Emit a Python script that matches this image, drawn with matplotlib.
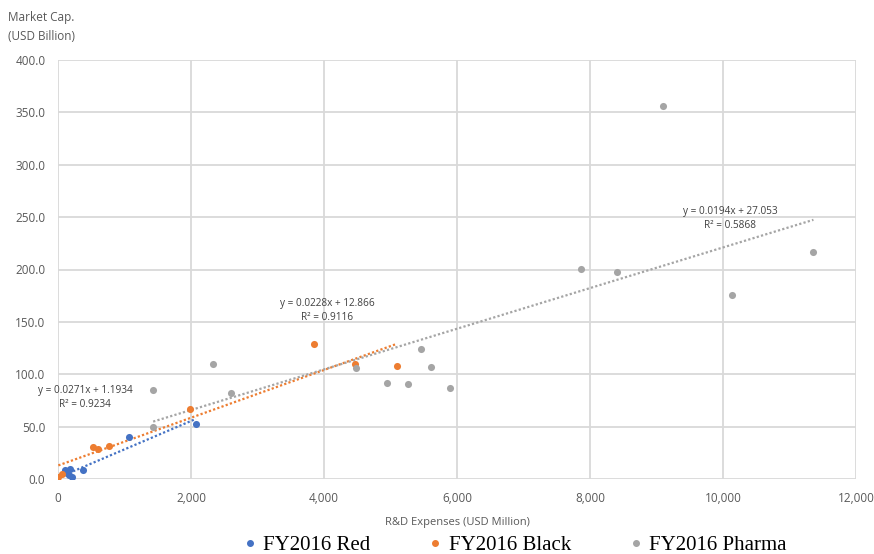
import matplotlib
matplotlib.use("Agg")
import matplotlib.pyplot as plt
from matplotlib.lines import Line2D
from matplotlib.ticker import FuncFormatter, MultipleLocator

# R&D expenses (USD million) vs market cap (USD billion)
red_rd = [105, 140, 170, 181, 206, 381, 1064, 2073]
red_cap = [8.6, 5.4, 3.8, 9.3, 2.2, 8.6, 40.4, 52.2]

black_rd = [5, 55, 522, 597, 773, 1988, 3855, 4473, 5100]
black_cap = [2.0, 4.5, 30.9, 28.3, 31.8, 66.8, 128.9, 110.0, 108.2]

pharma_rd = [1431, 1431, 2334, 2605, 4488, 4950, 5256, 5462, 5613, 5893,
             7871, 8404, 9101, 10136, 11360]
pharma_cap = [85.0, 49.6, 109.8, 82.0, 106.0, 91.6, 90.4, 123.8, 107.0, 86.9,
              200.2, 198.0, 355.8, 175.4, 217.0]

# Linear trendlines: slope, intercept, R^2
red_fit = (0.0271, 1.1934, 0.9234)
black_fit = (0.0228, 12.866, 0.9116)
pharma_fit = (0.0194, 27.053, 0.5868)

series_names = ["FY2016 Red", "FY2016 Black", "FY2016 Pharma"]
colors = ["#4472C4", "#ED7D31", "#A5A5A5"]

plt.rcParams["font.family"] = ["Open Sans", "DejaVu Sans"]

fig = plt.figure(figsize=(8.74, 5.54), dpi=100)
ax = fig.add_axes([58 / 874, 1 - 479 / 554, (856 - 58) / 874, (479 - 60) / 554])

series = [(red_rd, red_cap, red_fit), (black_rd, black_cap, black_fit),
          (pharma_rd, pharma_cap, pharma_fit)]

for (xs, ys, fit), c in zip(series, colors):
    ax.scatter(xs, ys, s=26, color=c, zorder=4, linewidths=0)
    slope, icpt, _ = fit
    x0, x1 = min(xs), max(xs)
    ax.plot([x0, x1], [slope * x0 + icpt, slope * x1 + icpt], color=c,
            linestyle=(0, (1, 1)), linewidth=1.6, zorder=3)

# trendline equations
label_pos = [(407, 78), (4051, 161), (10105, 248.5)]
for (_, _, fit), (lx, ly) in zip(series, label_pos):
    slope, icpt, r2 = fit
    txt = f"y = {slope:g}x + {icpt:g}\nR² = {r2:g}"
    ax.text(lx, ly, txt, ha="center", va="center", fontsize=7.2,
            color="#404040", linespacing=1.35, zorder=5)

ax.set_xlim(0, 12000)
ax.set_ylim(0, 400)
ax.xaxis.set_major_locator(MultipleLocator(2000))
ax.yaxis.set_major_locator(MultipleLocator(50))
ax.xaxis.set_major_formatter(FuncFormatter(lambda v, p: f"{v:,.0f}"))
ax.yaxis.set_major_formatter(FuncFormatter(lambda v, p: f"{v:.1f}"))
ax.grid(True, color="#D9D9D9", linewidth=1.3)
ax.set_axisbelow(True)
for sp in ax.spines.values():
    sp.set_visible(False)
ax.tick_params(length=0, labelsize=8.5, labelcolor="#595959", pad=9)

ax.set_xlabel("R&D Expenses (USD Million)", fontsize=8, color="#595959", labelpad=9)
fig.text(8 / 874, 1 - 27 / 554, "Market Cap.\n(USD Billion)", fontsize=8.5,
         color="#595959", ha="left", va="center", linespacing=1.5)

handles = [Line2D([], [], marker="o", linestyle="none", color=c, markersize=4)
           for c in colors]
fig.legend(handles, series_names, loc="center", bbox_to_anchor=(513 / 874, 1 - 545 / 554),
           ncol=3, frameon=False, handletextpad=0.15, columnspacing=2.6,
           handlelength=1.0, prop=dict(family="Liberation Serif", size=15))

fig.savefig("out.png", dpi=100)
